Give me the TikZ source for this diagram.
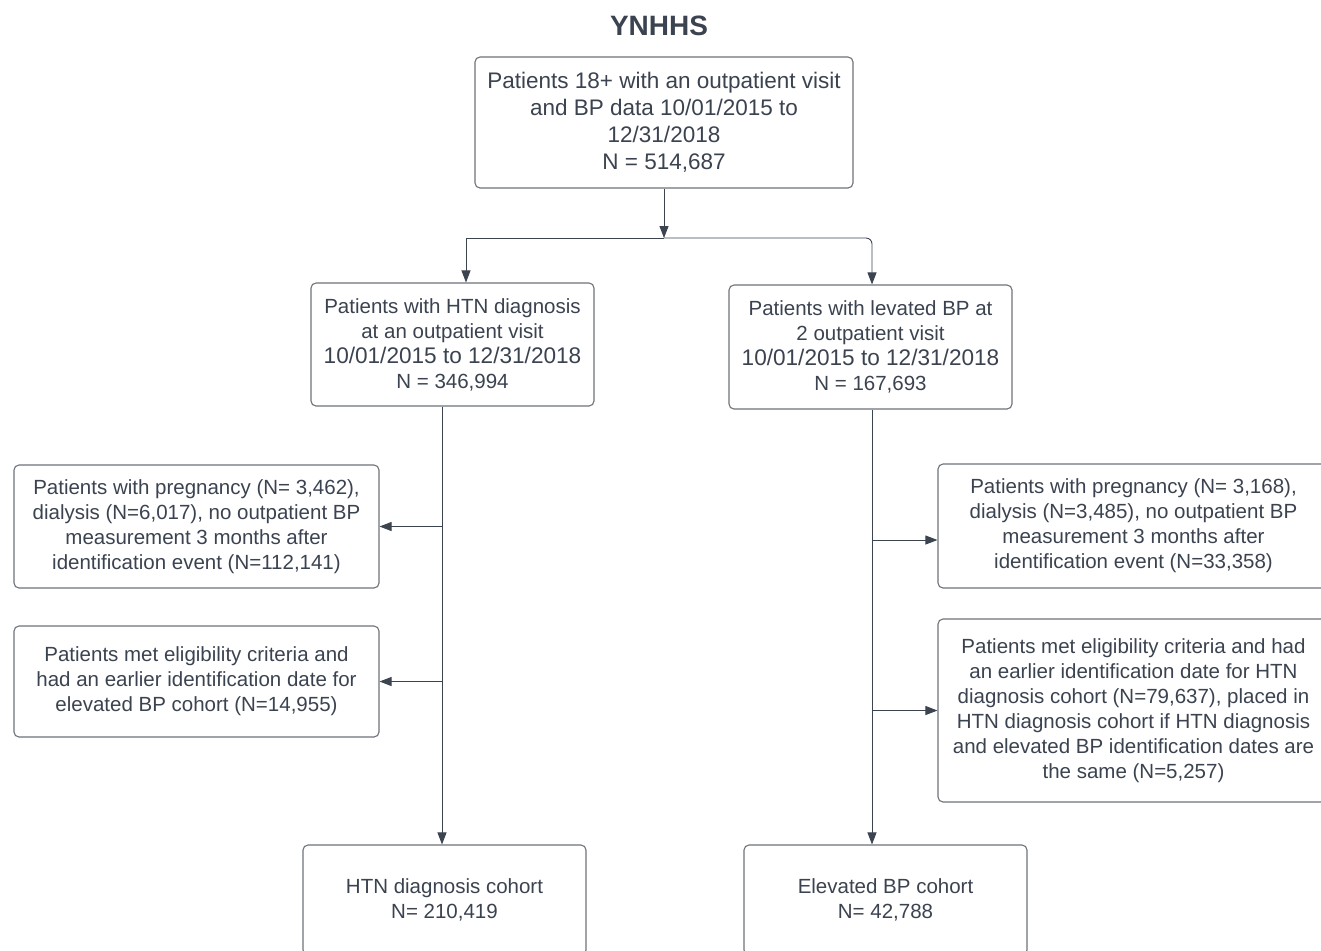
\documentclass[tikz,border=0pt]{standalone}
\usepackage{fontspec}
\setmainfont{Liberation Sans}
\usepackage{xcolor}
\usepackage{tikz}
\usetikzlibrary{arrows.meta, positioning}

\definecolor{txtgray}{HTML}{3B4350}
\definecolor{boxgray}{HTML}{6E737A}
\definecolor{linegray}{HTML}{3C4450}

\tikzset{
  box/.style={draw=boxgray, line width=0.55pt, rounded corners=2.5pt, align=center,
    text=txtgray, inner sep=0pt, font=\fontsize{10.25}{12.5}\selectfont},
  arr/.style={draw=linegray, line width=0.45pt, -{Triangle[length=6pt, width=4.5pt]}},
  ln/.style={draw=linegray, line width=0.45pt}
}
\newcommand{\datefont}{\fontsize{11.3}{12.5}\selectfont}

\begin{document}
\begin{tikzpicture}[x=0.5pt, y=-0.5pt]
\useasboundingbox (0,0) rectangle (1321,950);
\fill[white] (0,0) rectangle (1321,950);
\clip (0,0) rectangle (1321,950);

% Title
\node[text=txtgray, font=\bfseries\fontsize{14}{16}\selectfont] (title) at (659,26) {YNHHS};

% Source population
\node[box, minimum width=189pt, minimum height=65.5pt, font=\fontsize{11.25}{13.5}\selectfont] (top) at (664,122.5)
  {Patients 18+ with an outpatient visit\\ and BP data 10/01/2015 to\\ 12/31/2018\\ N = 514,687};

% Identification
\node[box, minimum width=141.5pt, minimum height=61.5pt] (htn) at (452.5,344.5)
  {Patients with HTN diagnosis\\ at an outpatient visit\\ {\datefont 10/01/2015 to 12/31/2018}\\ N = 346,994};
\node[box, minimum width=141.5pt, minimum height=62pt] (ebp) at (870.5,347)
  {Patients with levated BP at\\ 2 outpatient visit\\ {\datefont 10/01/2015 to 12/31/2018}\\ N = 167,693};

% Exclusions
\node[box, minimum width=182.5pt, minimum height=61.5pt] (exa) at (196.5,526.5)
  {Patients with pregnancy (N= 3,462),\\ dialysis (N=6,017), no outpatient BP\\ measurement 3 months after\\ identification event (N=112,141)};
\node[box, minimum width=182.5pt, minimum height=55.5pt] (exb) at (196.5,681.5)
  {Patients met eligibility criteria and\\ had an earlier identification date for\\ elevated BP cohort (N=14,955)};
\node[box, minimum width=195.5pt, minimum height=62pt] (exc) at (1133.5,526)
  {Patients with pregnancy (N= 3,168),\\ dialysis (N=3,485), no outpatient BP\\ measurement 3 months after\\ identification event (N=33,358)};
\node[box, minimum width=195.5pt, minimum height=91.5pt] (exd) at (1133.5,710.5)
  {Patients met eligibility criteria and had\\ an earlier identification date for HTN\\ diagnosis cohort (N=79,637), placed in\\ HTN diagnosis cohort if HTN diagnosis\\ and elevated BP identification dates are\\ the same (N=5,257)};

% Cohorts
\node[box, minimum width=141.5pt, minimum height=55pt] (htnc) at (444.5,900)
  {HTN diagnosis cohort\\ N= 210,419};
\node[box, minimum width=141.5pt, minimum height=55pt] (ebc) at (885.5,900)
  {Elevated BP cohort\\ N= 42,788};

% Split
\coordinate (split) at (664,238);
\coordinate (jl) at (466,238);
\coordinate (jr) at (872,238);
\draw[arr] (top.south -| split) -- (split);
\draw[ln] (jl) -- (split);
\draw[arr] (jl) -- (jl |- htn.north);
\draw[arr, rounded corners=3pt] (split) -- (jr) -- (jr |- ebp.north);

% HTN branch
\coordinate (hv) at (442,0);
\draw[arr] (hv |- htn.south) -- (hv |- htnc.north);
\draw[arr] (hv |- exa.east) -- (exa.east);
\draw[arr] (hv |- exb.east) -- (exb.east);

% Elevated BP branch
\coordinate (ev) at (872,0);
\coordinate (ca) at (872,540);
\draw[arr] (ev |- ebp.south) -- (ev |- ebc.north);
\draw[arr] (ca) -- (ca -| exc.west);
\draw[arr] (ev |- exd.west) -- (exd.west);
\end{tikzpicture}
\end{document}
